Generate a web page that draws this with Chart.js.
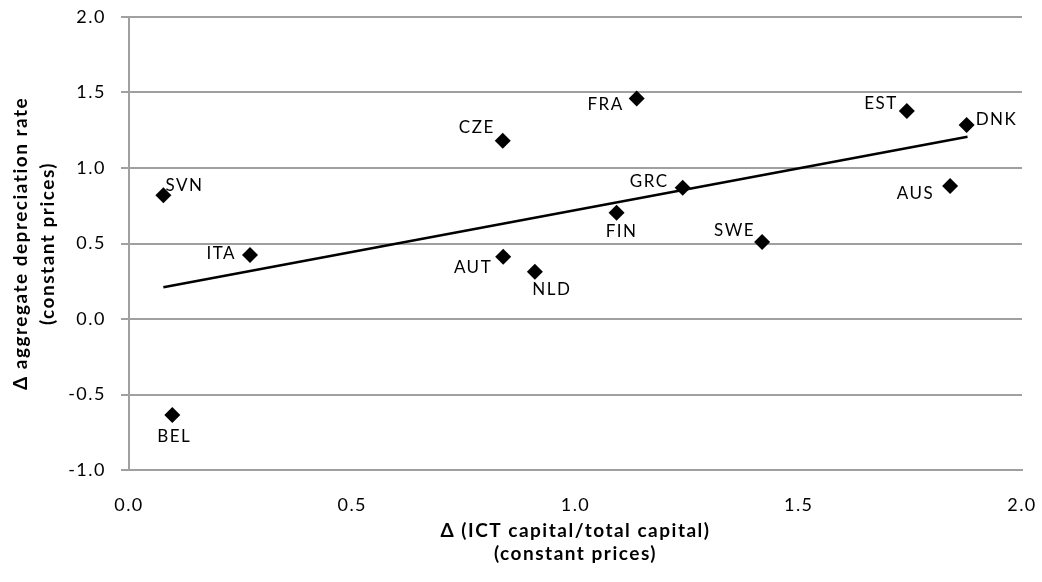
<!DOCTYPE html>
<html>
<head>
<meta charset="utf-8">
<script src="https://cdn.jsdelivr.net/npm/chart.js@4"></script>
<style>
  body { margin: 0; background: #fff; }
  #wrap { width: 1042px; height: 582px; }
</style>
</head>
<body>
<div id="wrap"><canvas id="myChart" width="1042" height="582"></canvas></div>
<script>
const ctx = document.getElementById('myChart');

// countries and values
let countries = ["SVN", "BEL", "ITA", "CZE", "AUT", "NLD", "FRA", "FIN", "GRC", "SWE", "EST", "DNK", "AUS"];
let ictShare = [0.077, 0.097, 0.271, 0.837, 0.838, 0.909, 1.137, 1.092, 1.240, 1.418, 1.742, 1.876, 1.839];
let deprRate = [0.82, -0.636, 0.424, 1.18, 0.413, 0.313, 1.46, 0.704, 0.87, 0.51, 1.377, 1.285, 0.88];
// trend line ends
let trendX = [0.077, 1.878];
let trendY = [0.21, 1.207];

let font = "Lato, 'Open Sans', sans-serif";

// where each label sits around its marker: [dx, dy, align]
let labelSpot = {
  SVN: [2, -10, 'left'], BEL: [2, 21, 'center'], ITA: [-14, -1, 'right'],
  CZE: [-8, -13, 'right'], AUT: [-11, 11, 'right'], NLD: [17, 18, 'center'],
  FRA: [-13, 6, 'right'], FIN: [5, 19, 'center'], GRC: [-14, -6, 'right'],
  SWE: [-7, -11, 'right'], EST: [-9, -8, 'right'], DNK: [9, -5, 'left'],
  AUS: [-16, 7, 'right']
};

// the reference text is loosely spaced
const spacing = {
  id: 'spacing',
  beforeLayout(chart) { chart.ctx.letterSpacing = '1.5px'; },
  beforeDraw(chart) { chart.ctx.letterSpacing = '1.5px'; }
};

const pointLabels = {
  id: 'pointLabels',
  afterDatasetsDraw(chart) {
    let c = chart.ctx;
    let meta = chart.getDatasetMeta(0);
    c.save();
    c.font = "17px " + font;
    c.fillStyle = '#000';
    c.textBaseline = 'middle';
    meta.data.forEach((pt, i) => {
      let s = labelSpot[countries[i]];
      c.textAlign = s[2];
      c.fillText(countries[i], pt.x + s[0], pt.y + s[1]);
    });
    c.restore();
  }
};

// keep tick-label overflow from pushing the plot area around
function noOverflow(s) {
  s.paddingTop = 0; s.paddingBottom = 0; s.paddingLeft = 0; s.paddingRight = 0;
}

new Chart(ctx, {
  type: 'scatter',
  data: {
    datasets: [{
      data: ictShare.map((x, i) => ({ x: x, y: deprRate[i] })),
      pointStyle: 'rectRot',
      pointRadius: 8,
      pointHoverRadius: 8,
      backgroundColor: '#000',
      borderColor: '#000',
      borderWidth: 0
    }, {
      type: 'line',
      data: trendX.map((x, i) => ({ x: x, y: trendY[i] })),
      borderColor: '#000',
      borderWidth: 2.5,
      pointRadius: 0,
      fill: false
    }]
  },
  options: {
    responsive: false,
    animation: false,
    layout: { padding: { top: 17, right: 20, left: 0, bottom: 0 } },
    plugins: { legend: { display: false }, tooltip: { enabled: false } },
    scales: {
      x: {
        min: 0, max: 2,
        afterFit: s => { s.height = 112; noOverflow(s); },
        ticks: { stepSize: 0.5, color: '#000', font: { family: font, size: 18 }, padding: 16,
          callback: v => v.toFixed(1) },
        grid: { display: false },
        border: { color: '#a0a0a0', width: 2 },
        title: { display: true, text: ['Δ (ICT capital/total capital)', '(constant prices)'], color: '#000',
          font: { family: font, size: 19, weight: 'bold', lineHeight: 1.237 }, padding: { top: 0, bottom: 16 } }
      },
      y: {
        min: -1, max: 2,
        afterFit: s => { s.width = 129; noOverflow(s); },
        ticks: { stepSize: 0.5, color: '#000', font: { family: font, size: 18 }, padding: 15,
          callback: v => v.toFixed(1) },
        grid: { color: '#a0a0a0', lineWidth: 2, tickLength: 8 },
        border: { color: '#a0a0a0', width: 2 },
        title: { display: true, text: ['Δ aggregate depreciation rate', '(constant prices)'], color: '#000',
          font: { family: font, size: 19, weight: 'bold', lineHeight: 1.42 }, padding: { top: 7, bottom: 0 } }
      }
    }
  },
  plugins: [spacing, pointLabels]
});
</script>
</body>
</html>
